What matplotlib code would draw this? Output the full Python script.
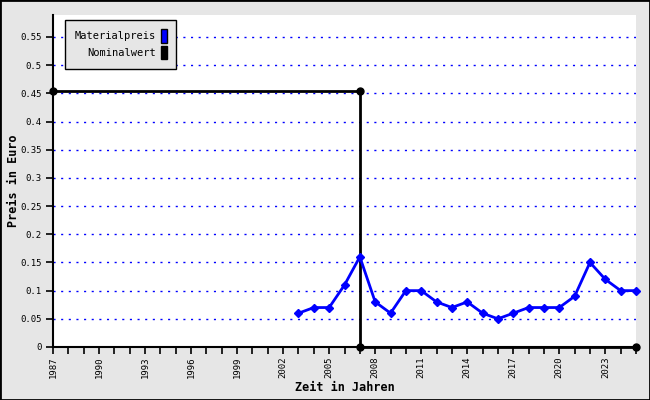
import numpy as np
import matplotlib
matplotlib.use("Agg")
import matplotlib.pyplot as plt
from matplotlib.patches import Patch
from matplotlib.ticker import MultipleLocator, FixedLocator, FuncFormatter

# data
jahre = list(range(2003, 2026))
materialpreis = [0.06, 0.07, 0.07, 0.11, 0.16, 0.08, 0.06, 0.10, 0.10, 0.08, 0.07, 0.08,
                 0.06, 0.05, 0.06, 0.07, 0.07, 0.07, 0.09, 0.15, 0.12, 0.10, 0.10]
nominal_jahre = [1987, 2007, 2007, 2025]
nominalwert = [0.454, 0.454, 0.0, 0.0]
tick_jahre = list(range(1987, 2025, 3))

plt.rcParams["font.family"] = "DejaVu Sans Mono"

fig = plt.figure(figsize=(6.5, 4), dpi=100, facecolor="#e6e6e6")
ax = fig.add_axes([53 / 650, 53 / 400, 583 / 650, 332 / 400])
ax.set_facecolor("white")

ax.set_xlim(1987, 2025)
ax.set_ylim(0, 0.589)

# grid
ax.yaxis.set_major_locator(MultipleLocator(0.05))
for y in np.arange(0.05, 0.56, 0.05):
    ax.axhline(y, color="blue", lw=1, ls=(0, (1.5, 4)), zorder=1)

ax.plot(nominal_jahre, nominalwert, color="black", lw=2, marker="o", ms=5,
        clip_on=False, zorder=4)
ax.plot(jahre, materialpreis, color="blue", lw=2, marker="D", ms=4,
        clip_on=False, zorder=5)

ax.xaxis.set_major_locator(FixedLocator(tick_jahre))
ax.xaxis.set_minor_locator(MultipleLocator(1))
ax.yaxis.set_major_formatter(FuncFormatter(lambda v, p: f"{v:g}" if abs(v) > 1e-9 else "0"))
ax.tick_params(axis="x", which="both", direction="out", length=5, width=1.2,
               labelrotation=90, labelsize=6.5, pad=2)
ax.tick_params(axis="y", direction="out", length=5, width=1.2, labelsize=6.5, pad=3)
for s in ["top", "right"]:
    ax.spines[s].set_visible(False)
ax.spines["left"].set_linewidth(1.5)
ax.spines["bottom"].set_linewidth(1.5)

ax.set_xlabel("Zeit in Jahren", fontsize=8.5, fontweight="bold", labelpad=2)
ax.set_ylabel("Preis in Euro", fontsize=8.5, fontweight="bold")
ax.yaxis.set_label_coords(-33 / 583, 0.5)

handles = [Patch(facecolor="blue", edgecolor="black"),
           Patch(facecolor="black", edgecolor="black")]
leg = ax.legend(handles, ["Materialpreis", "Nominalwert"], loc="upper left",
                bbox_to_anchor=(12 / 583, 1 - 5 / 332), borderaxespad=0,
                markerfirst=False, fontsize=7.5, fancybox=False, framealpha=1,
                edgecolor="black", facecolor="#e6e6e6", handlelength=0.6,
                handleheight=1.6, handletextpad=0.5, labelspacing=0.3,
                borderpad=0.9)
leg.get_frame().set_linewidth(1)

# outer border
fig.patches.append(plt.Rectangle((0, 0), 1, 1, transform=fig.transFigure,
                                 fill=False, edgecolor="black", lw=2))

fig.savefig("out.png", dpi=100, facecolor=fig.get_facecolor())
